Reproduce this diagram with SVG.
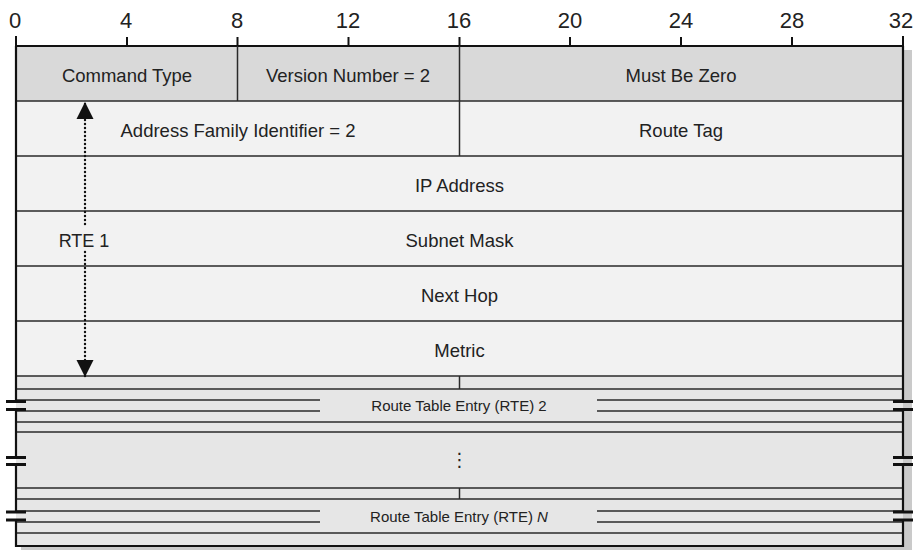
<svg xmlns="http://www.w3.org/2000/svg" width="919" height="550" viewBox="0 0 919 550">
<defs>
<style>
text{font-family:"Liberation Sans",Arial,sans-serif;fill:#222;text-anchor:middle}
.lbl{font-size:18.5px}
.num{font-size:22px}
.sm{font-size:15px}
.ln{stroke:#2a2a2a;stroke-width:1.5;fill:none}
.fr{stroke:#111;stroke-width:2.2;fill:none}
.bar{stroke:#111;stroke-width:3}
</style>
<marker id="ah" viewBox="0 0 10 10" refX="10" refY="5" markerWidth="17" markerHeight="20" markerUnits="userSpaceOnUse" orient="auto">
<path d="M0,0 L10,5 L0,10 Z" fill="#111"/>
</marker>
</defs>
<rect width="919" height="550" fill="#fff"/>
<!-- shadow -->
<rect x="21" y="50" width="891" height="500" fill="#cacaca"/>
<!-- backgrounds -->
<rect x="16" y="46" width="887" height="55" fill="#d9d9d9"/>
<rect x="16" y="101" width="887" height="275" fill="#f2f2f2"/>
<rect x="16" y="376" width="887" height="170" fill="#e6e6e6"/>
<!-- ruler -->
<g id="ruler">
<line class="fr" x1="16" y1="46" x2="903" y2="46"/>
<g class="ln" style="stroke:#111;stroke-width:2">
<line x1="16" y1="36" x2="16" y2="46"/><line x1="127" y1="37" x2="127" y2="46"/><line x1="237.5" y1="37" x2="237.5" y2="46"/><line x1="348.5" y1="37" x2="348.5" y2="46"/><line x1="459.5" y1="37" x2="459.5" y2="46"/><line x1="570" y1="37" x2="570" y2="46"/><line x1="681" y1="37" x2="681" y2="46"/><line x1="792" y1="37" x2="792" y2="46"/><line x1="903" y1="36" x2="903" y2="46"/>
</g>
<text class="num" x="15" y="28">0</text><text class="num" x="126" y="28">4</text><text class="num" x="237" y="28">8</text><text class="num" x="348" y="28">12</text><text class="num" x="459" y="28">16</text><text class="num" x="570" y="28">20</text><text class="num" x="681" y="28">24</text><text class="num" x="792" y="28">28</text><text class="num" x="901" y="28">32</text>
</g>
<!-- row lines -->
<g id="grid" class="ln">
<line x1="16" y1="101" x2="903" y2="101"/>
<line x1="16" y1="156" x2="903" y2="156"/>
<line x1="16" y1="211" x2="903" y2="211"/>
<line x1="16" y1="266" x2="903" y2="266"/>
<line x1="16" y1="321" x2="903" y2="321"/>
<line x1="16" y1="376" x2="903" y2="376"/>
<line x1="237.5" y1="46" x2="237.5" y2="101"/>
<line x1="459.5" y1="46" x2="459.5" y2="156"/>
<line x1="16" y1="389" x2="903" y2="389"/>
<line x1="459.5" y1="376" x2="459.5" y2="389"/>
<line x1="16" y1="400" x2="320" y2="400"/><line x1="16" y1="411" x2="320" y2="411"/>
<line x1="597" y1="400" x2="903" y2="400"/><line x1="597" y1="411" x2="903" y2="411"/>
<line x1="16" y1="422" x2="903" y2="422"/>
<line x1="16" y1="432" x2="903" y2="432"/>
<line x1="16" y1="488" x2="903" y2="488"/>
<line x1="16" y1="499" x2="903" y2="499"/>
<line x1="459.5" y1="488" x2="459.5" y2="499"/>
<line x1="16" y1="511" x2="320" y2="511"/><line x1="16" y1="522" x2="320" y2="522"/>
<line x1="597" y1="511" x2="903" y2="511"/><line x1="597" y1="522" x2="903" y2="522"/>
<line x1="16" y1="533" x2="903" y2="533"/>
</g>
<!-- frame -->
<g id="frame">
<path class="fr" d="M16,46 V401.5 M16,409.5 V457.5 M16,464.5 V512 M16,520 V546 H903 V520 M903,512 V464.5 M903,457.5 V409.5 M903,401.5 V46"/>
<g class="bar">
<line x1="6" y1="401.5" x2="26" y2="401.5"/><line x1="6" y1="409.5" x2="26" y2="409.5"/>
<line x1="6" y1="457.5" x2="26" y2="457.5"/><line x1="6" y1="464.5" x2="26" y2="464.5"/>
<line x1="6" y1="512" x2="26" y2="512"/><line x1="6" y1="520" x2="26" y2="520"/>
<line x1="893" y1="401.5" x2="913" y2="401.5"/><line x1="893" y1="409.5" x2="913" y2="409.5"/>
<line x1="893" y1="457.5" x2="913" y2="457.5"/><line x1="893" y1="464.5" x2="913" y2="464.5"/>
<line x1="893" y1="512" x2="913" y2="512"/><line x1="893" y1="520" x2="913" y2="520"/>
</g>
</g>
<!-- fields -->
<g id="command-type"><text class="lbl" x="127" y="81.5">Command Type</text></g>
<g id="version"><text class="lbl" x="348" y="81.5">Version Number = 2</text></g>
<g id="mbz"><text class="lbl" x="681" y="81.5">Must Be Zero</text></g>
<g id="afi"><text class="lbl" x="238" y="136.5">Address Family Identifier = 2</text></g>
<g id="route-tag"><text class="lbl" x="681" y="136.5">Route Tag</text></g>
<g id="ip"><text class="lbl" x="459.5" y="191.5">IP Address</text></g>
<g id="mask"><text class="lbl" x="459.5" y="246.5">Subnet Mask</text></g>
<g id="nexthop"><text class="lbl" x="459.5" y="301.5">Next Hop</text></g>
<g id="metric"><text class="lbl" x="459.5" y="356.5">Metric</text></g>
<g id="rte2"><text class="sm" x="459" y="411">Route Table Entry (RTE) 2</text></g>
<g id="ellipsis"><text class="lbl" x="459.5" y="466" style="font-family:'DejaVu Sans',sans-serif">⋮</text></g>
<g id="rten"><text class="sm" x="459" y="522">Route Table Entry (RTE) <tspan font-style="italic">N</tspan></text></g>
<g id="rte1-label"><text class="lbl" x="84" y="246.5" style="font-size:18px">RTE 1</text></g>
<!-- connectors -->
<g id="connectors">
<line x1="85" y1="224" x2="85" y2="102" stroke="#111" stroke-width="2.4" stroke-dasharray="0 4" stroke-linecap="round" marker-end="url(#ah)"/>
<line x1="85" y1="252" x2="85" y2="377" stroke="#111" stroke-width="2.4" stroke-dasharray="0 4" stroke-linecap="round" marker-end="url(#ah)"/>
</g>
</svg>
